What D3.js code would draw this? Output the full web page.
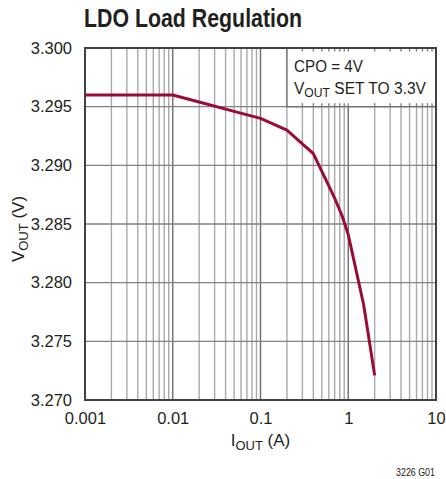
<!DOCTYPE html>
<html>
<head>
<meta charset="utf-8">
<script src="https://cdn.jsdelivr.net/npm/d3@7"></script>
<style>
  html, body { margin: 0; padding: 0; background: #fff; }
  svg { display: block; }
  text { font-family: "Liberation Sans", Arial, Helvetica, sans-serif; fill: #231f20; }
</style>
</head>
<body>
<svg id="chart" width="446" height="479"></svg>
<script>
// Data
const currentA = [0.001, 0.01, 0.02, 0.05, 0.1, 0.2, 0.4, 0.7, 0.85, 1, 1.5, 2];
const voutV    = [3.296, 3.296, 3.2954, 3.2946, 3.294, 3.293, 3.291, 3.2872, 3.2857, 3.2841, 3.2781, 3.2721];
const xTickValues = [0.001, 0.01, 0.1, 1, 10];
const xTickLabels = ["0.001", "0.01", "0.1", "1", "10"];
const yTickValues = [3.270, 3.275, 3.280, 3.285, 3.290, 3.295, 3.300];
const yTickLabels = ["3.270", "3.275", "3.280", "3.285", "3.290", "3.295", "3.300"];
const annotationLines = ["CPO = 4V", "SET TO 3.3V"];

const svg = d3.select("#chart");
const L = 85, R = 436, T = 48, B = 400;

const x = d3.scaleLog().domain([0.001, 10]).range([L, R]);
const y = d3.scaleLinear().domain([3.270, 3.300]).range([B, T]);

// minor / major x grid values
const minorX = [];
for (let d = -3; d < 1; d++) {
  for (let m = 2; m <= 9; m++) minorX.push(m * Math.pow(10, d));
}
const majorX = [0.01, 0.1, 1];

const grid = svg.append("g");
grid.selectAll("line.minor").data(minorX).enter().append("line")
  .attr("x1", d => x(d)).attr("x2", d => x(d))
  .attr("y1", T).attr("y2", B)
  .attr("stroke", "#a7a9ac").attr("stroke-width", 1.4);
grid.selectAll("line.major").data(majorX).enter().append("line")
  .attr("x1", d => x(d)).attr("x2", d => x(d))
  .attr("y1", T).attr("y2", B)
  .attr("stroke", "#6d6e71").attr("stroke-width", 1.4);
grid.selectAll("line.h").data(yTickValues.slice(1, -1)).enter().append("line")
  .attr("x1", L).attr("x2", R)
  .attr("y1", d => y(d)).attr("y2", d => y(d))
  .attr("stroke", "#808285").attr("stroke-width", 1.4);

// annotation box
const bx0 = x(0.2), bx1 = x(10), by0 = y(3.300), by1 = y(3.295);
svg.append("rect")
  .attr("x", bx0).attr("y", by0).attr("width", bx1 - bx0).attr("height", by1 - by0)
  .attr("fill", "#fff").attr("stroke", "#6d6e71").attr("stroke-width", 1.4);
const stubX = minorX.concat(majorX).filter(d => d > 0.2 && d < 10);
svg.append("g").selectAll("line").data(stubX).enter().append("line")
  .attr("x1", d => x(d)).attr("x2", d => x(d))
  .attr("y1", by0).attr("y2", by0 + 3.5)
  .attr("stroke", "#808285").attr("stroke-width", 1.4);
svg.append("g").selectAll("line").data(stubX).enter().append("line")
  .attr("x1", d => x(d)).attr("x2", d => x(d))
  .attr("y1", by1 - 3.5).attr("y2", by1)
  .attr("stroke", "#808285").attr("stroke-width", 1.4);

const ann = svg.append("g");
ann.append("text").attr("x", 294).attr("y", 72).attr("font-size", 16)
  .attr("textLength", 69).attr("lengthAdjust", "spacingAndGlyphs").text(annotationLines[0]);
const t2 = ann.append("text").attr("x", 294).attr("y", 94).attr("font-size", 16)
  .attr("textLength", 132).attr("lengthAdjust", "spacingAndGlyphs");
t2.append("tspan").text("V");
t2.append("tspan").attr("font-size", 12.5).attr("dy", 3).text("OUT");
t2.append("tspan").attr("dy", -3).text(" " + annotationLines[1]);

// plot border
svg.append("rect").attr("x", L).attr("y", T).attr("width", R - L).attr("height", B - T)
  .attr("fill", "none").attr("stroke", "#414042").attr("stroke-width", 2);

// data line
const line = d3.line().x((d, i) => x(currentA[i])).y((d, i) => y(voutV[i]));
svg.append("path").datum(voutV).attr("d", line)
  .attr("fill", "none").attr("stroke", "#9b0c35").attr("stroke-width", 3)
  .attr("stroke-linejoin", "round");

// axes (labels only)
const xAxis = d3.axisBottom(x).tickValues(xTickValues)
  .tickFormat((d, i) => xTickLabels[i]).tickSize(0).tickPadding(12.5);
const gx = svg.append("g").attr("transform", `translate(0,${B})`).call(xAxis);
gx.select(".domain").remove();
gx.selectAll("text").attr("font-size", 16.5).attr("font-family", null).attr("fill", "#231f20");

const yAxis = d3.axisLeft(y).tickValues(yTickValues)
  .tickFormat((d, i) => yTickLabels[i]).tickSize(0).tickPadding(13);
const gy = svg.append("g").attr("transform", `translate(${L},0)`).call(yAxis);
gy.select(".domain").remove();
gy.selectAll("text").attr("font-size", 16.5).attr("font-family", null).attr("fill", "#231f20");

// title
svg.append("text").attr("x", 84).attr("y", 27).attr("font-size", 26).attr("font-weight", "bold")
  .attr("textLength", 218).attr("lengthAdjust", "spacingAndGlyphs")
  .text("LDO Load Regulation");

// x axis title
const xt = svg.append("text").attr("x", (L + R) / 2).attr("y", 446).attr("text-anchor", "middle").attr("font-size", 17);
xt.append("tspan").text("I");
xt.append("tspan").attr("font-size", 13).attr("dy", 4).text("OUT");
xt.append("tspan").attr("dy", -4).text(" (A)");

// y axis title
const yt = svg.append("text").attr("transform", `translate(24,229) rotate(-90)`)
  .attr("text-anchor", "middle").attr("font-size", 17);
yt.append("tspan").text("V");
yt.append("tspan").attr("font-size", 13).attr("dy", 4).text("OUT");
yt.append("tspan").attr("dy", -4).text(" (V)");

// figure id
svg.append("text").attr("x", 435).attr("y", 476).attr("text-anchor", "end").attr("font-size", 10.5)
  .attr("textLength", 39).attr("lengthAdjust", "spacingAndGlyphs").text("3226 G01");
</script>
</body>
</html>
